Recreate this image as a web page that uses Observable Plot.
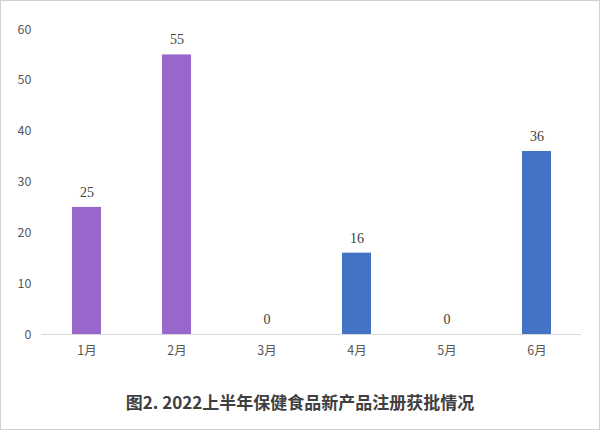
<!DOCTYPE html>
<html><head><meta charset="utf-8">
<script src="https://cdn.jsdelivr.net/npm/d3@7"></script>
<script src="https://cdn.jsdelivr.net/npm/@observablehq/plot@0.6"></script>
<style>
html,body{margin:0;padding:0;background:#fff;}
#wrap{width:600px;height:430px;box-sizing:border-box;border:1px solid #d0d0d0;position:relative;overflow:hidden;}
#title{position:absolute;left:0;width:100%;top:389px;text-align:center;font-family:"Noto Sans CJK SC","Noto Sans",sans-serif;font-weight:bold;font-size:17px;color:#404040;line-height:24px;}
</style></head>
<body><div id="wrap"><div id="chart"></div><div id="title">图2. 2022上半年保健食品新产品注册获批情况</div></div>
<script>
const months = ["1月","2月","3月","4月","5月","6月"];
const counts = [25,55,0,16,0,36];
const barColors = ["#9966CC","#9966CC","#9966CC","#4472C4","#4472C4","#4472C4"];
const yTicks = [0,10,20,30,40,50,60];
const data = months.map((m,i)=>({month:m,count:counts[i],color:barColors[i]}));
const chart = Plot.plot({
  width: 598, height: 370,
  marginLeft: 40, marginRight: 18, marginTop: 28, marginBottom: 37,
  style:{fontFamily:"'Noto Sans CJK SC','Noto Sans',sans-serif",fontSize:"12px",color:"#595959",background:"transparent"},
  x:{domain:months,paddingInner:0.68,paddingOuter:0.34,label:null},
  y:{domain:[0,60],ticks:yTicks,label:null},
  marks:[
    Plot.axisY({ticks:yTicks,tickSize:0,tickPadding:10,label:null,fill:"#595959",fontSize:12.5}),
    Plot.axisX({tickSize:0,tickPadding:12,label:null,fill:"#595959",fontSize:12.5}),
    Plot.barY(data,{x:"month",y:"count",fill:"color"}),
    Plot.ruleY([0],{stroke:"#d9d9d9",strokeWidth:1.2}),
    Plot.text(data,{x:"month",y:"count",text:d=>String(d.count),dy:-15,fill:"#404040",fontFamily:"'Liberation Serif',serif",fontSize:14})
  ]
});
document.getElementById("chart").appendChild(chart);
</script></body></html>
